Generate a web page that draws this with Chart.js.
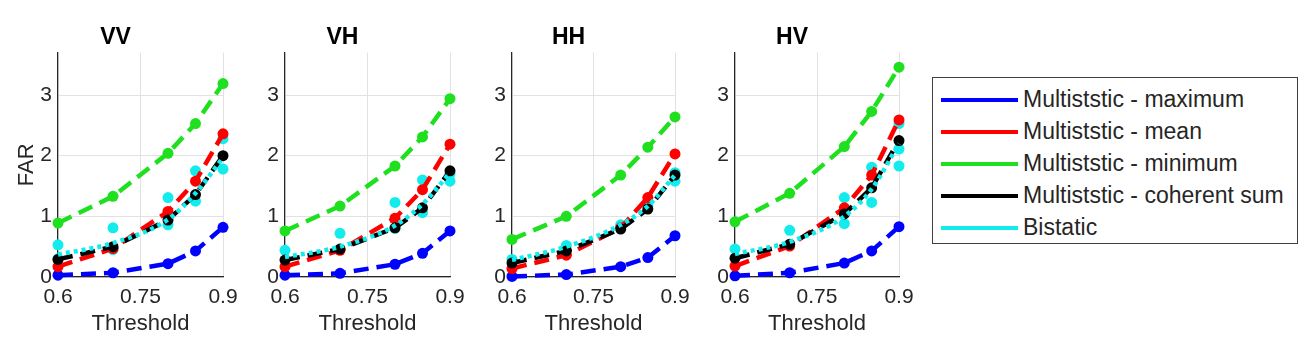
<!DOCTYPE html>
<html>
<head>
<meta charset="utf-8">
<script src="https://cdn.jsdelivr.net/npm/chart.js@4/dist/chart.umd.min.js"></script>
<style>
  body{margin:0;background:#fff;}
  #wrap{position:relative;width:1309px;height:354px;overflow:hidden;font-family:"Liberation Sans",Arial,sans-serif;color:#262626;}
  #wrap canvas{position:absolute;top:0;}
  .legend{position:absolute;left:932px;top:77px;width:364px;height:165px;border:1px solid #404040;background:#fff;}
  .legend .row{position:absolute;left:0;height:30px;}
  .legend .swatch{position:absolute;left:8px;width:77px;height:4px;top:13px;}
  .legend .lbl{position:absolute;left:90px;top:0px;font-size:23px;white-space:nowrap;line-height:29px;}
</style>
</head>
<body>
<div id="wrap">
  <canvas id="cVV" width="247" height="354"></canvas>
  <canvas id="cVH" width="247" height="354"></canvas>
  <canvas id="cHH" width="245" height="354"></canvas>
  <canvas id="cHV" width="246" height="354"></canvas>
  <div class="legend" id="legend"></div>
</div>
<script>
// thresholds and ticks
const THRESH = [0.6, 0.7, 0.8, 0.85, 0.9];
const X_TICKS = [0.6, 0.75, 0.9];
const Y_TICKS = [0, 1, 2, 3];
const PANELS = ["VV", "VH", "HH", "HV"];
const SERIES = ["Multiststic - maximum", "Multiststic - mean", "Multiststic - minimum", "Multiststic - coherent sum", "Bistatic"];
const COLORS = ["#0000ff", "#ff0000", "#1fe01f", "#000000", "#12ecec"];

// FAR values
const VV_MAX = [0.03, 0.07, 0.22, 0.43, 0.82];
const VV_MEAN = [0.17, 0.47, 1.08, 1.58, 2.36];
const VV_MIN = [0.89, 1.33, 2.04, 2.53, 3.19];
const VV_COH = [0.29, 0.50, 0.94, 1.36, 2.00];
const VV_BI = [0.37, 0.56, 0.95, 1.38, 1.97];
const VV_BI_X = [0.6, 0.6, 0.7, 0.7, 0.8, 0.8, 0.85, 0.85, 0.9, 0.9];
const VV_BI_Y = [0.53, 0.30, 0.81, 0.45, 1.31, 0.86, 1.75, 1.25, 2.28, 1.78];

const VH_MAX = [0.03, 0.06, 0.21, 0.39, 0.76];
const VH_MEAN = [0.17, 0.44, 0.97, 1.44, 2.19];
const VH_MIN = [0.76, 1.17, 1.83, 2.31, 2.94];
const VH_COH = [0.28, 0.46, 0.81, 1.14, 1.75];
const VH_BI = [0.33, 0.50, 0.85, 1.20, 1.72];
const VH_BI_X = [0.6, 0.7, 0.8, 0.8, 0.85, 0.85, 0.9, 0.9];
const VH_BI_Y = [0.44, 0.72, 1.23, 0.80, 1.60, 1.06, 1.58, 1.70];

const HH_MAX = [0.01, 0.04, 0.17, 0.32, 0.68];
const HH_MEAN = [0.14, 0.36, 0.81, 1.31, 2.03];
const HH_MIN = [0.62, 1.00, 1.68, 2.14, 2.64];
const HH_COH = [0.23, 0.43, 0.79, 1.12, 1.68];
const HH_BI = [0.28, 0.50, 0.86, 1.17, 1.68];
const HH_BI_X = [0.6, 0.7, 0.8, 0.85, 0.9, 0.9];
const HH_BI_Y = [0.29, 0.52, 0.86, 1.17, 1.72, 1.58];

const HV_MAX = [0.02, 0.07, 0.23, 0.43, 0.83];
const HV_MEAN = [0.18, 0.51, 1.14, 1.68, 2.59];
const HV_MIN = [0.91, 1.38, 2.15, 2.73, 3.46];
const HV_COH = [0.31, 0.54, 1.04, 1.47, 2.25];
const HV_BI = [0.38, 0.58, 1.00, 1.45, 2.20];
const HV_BI_X = [0.6, 0.7, 0.8, 0.8, 0.85, 0.85, 0.9, 0.9, 0.9];
const HV_BI_Y = [0.46, 0.77, 1.31, 0.88, 1.81, 1.23, 2.53, 2.11, 1.83];

const DATA = {
  VV: [VV_MAX, VV_MEAN, VV_MIN, VV_COH, VV_BI, VV_BI_X, VV_BI_Y],
  VH: [VH_MAX, VH_MEAN, VH_MIN, VH_COH, VH_BI, VH_BI_X, VH_BI_Y],
  HH: [HH_MAX, HH_MEAN, HH_MIN, HH_COH, HH_BI, HH_BI_X, HH_BI_Y],
  HV: [HV_MAX, HV_MEAN, HV_MIN, HV_COH, HV_BI, HV_BI_X, HV_BI_Y]
};
// left edge of each plot area on the page
const PLOT_LEFT = {VV: 58, VH: 285, HH: 512, HV: 735};

const FONT = '"Liberation Sans", Arial, sans-serif';
const INK = "#262626";

function pts(ys){ return ys.map((y,i)=>({x: THRESH[i], y})); }

function lineSet(label, ys, color, order){
  return {label, data: pts(ys), borderColor: color, backgroundColor: color,
    borderWidth: 4.5, borderDash: [15, 8], pointRadius: 5.5, pointBorderWidth: 0,
    pointBackgroundColor: color, clip: false, order, tension: 0};
}

function makeChart(name){
  const d = DATA[name];
  const first = name === "VV";
  const canvas = document.getElementById("c" + name);
  canvas.style.left = (PLOT_LEFT[name] - 58) + "px";
  const datasets = [
    {label: SERIES[4], data: pts(d[4]), borderColor: COLORS[4], borderWidth: 4.5,
      borderDash: [4, 4], pointRadius: 0, cubicInterpolationMode: "monotone", clip: false, order: 0, fill: false},
    lineSet(SERIES[3], d[3], COLORS[3], 1),
    lineSet(SERIES[2], d[2], COLORS[2], 2),
    lineSet(SERIES[1], d[1], COLORS[1], 3),
    lineSet(SERIES[0], d[0], COLORS[0], 4),
    {label: "bistatic pairs", data: d[5].map((x,i)=>({x, y: d[6][i]})), showLine: false,
      pointRadius: 5.5, pointBorderWidth: 0, pointBackgroundColor: COLORS[4], clip: false, order: 5}
  ];
  return new Chart(canvas, {
    type: "line",
    data: {datasets},
    options: {
      responsive: false, animation: false,
      layout: {padding: {left: 8, right: 24, top: 0, bottom: 0}},
      plugins: {
        legend: {display: false}, tooltip: {enabled: false},
        title: {display: true, text: name, color: "#000",
          font: {family: FONT, size: 23, weight: "bold"}, padding: {top: 24, bottom: 1}}
      },
      scales: {
        x: {type: "linear", min: 0.6, max: 0.9,
          afterBuildTicks: s => { s.ticks = X_TICKS.map(v=>({value: v})); },
          afterFit: s => { s.height = 77; },
          ticks: {color: INK, font: {family: FONT, size: 21}, padding: 8, maxRotation: 0,
            callback: v => String(v)},
          grid: {color: "#e2e2e2", drawTicks: false},
          border: {color: INK, width: 1.2},
          title: {display: true, text: "Threshold", color: INK,
            font: {family: FONT, size: 22}, padding: {top: 0, bottom: 17}}
        },
        y: {min: 0, max: 3.7,
          afterBuildTicks: s => { s.ticks = Y_TICKS.map(v=>({value: v})); },
          afterFit: s => { s.width = 50; },
          ticks: {color: INK, font: {family: FONT, size: 21}, padding: 6, callback: v => String(v)},
          grid: {color: "#e2e2e2", drawTicks: false},
          border: {color: INK, width: 1.2},
          title: {display: first, text: "FAR", color: INK,
            font: {family: FONT, size: 22}, padding: {top: 6, bottom: 0}}
        }
      }
    }
  });
}

PANELS.forEach(makeChart);

// legend
const legend = document.getElementById("legend");
SERIES.forEach((s, i)=>{
  const row = document.createElement("div");
  row.className = "row";
  row.style.top = (7 + i * 32) + "px";
  row.innerHTML = `<div class="swatch" style="background:${COLORS[i]}"></div><div class="lbl">${s}</div>`;
  legend.appendChild(row);
});
</script>
</body>
</html>
